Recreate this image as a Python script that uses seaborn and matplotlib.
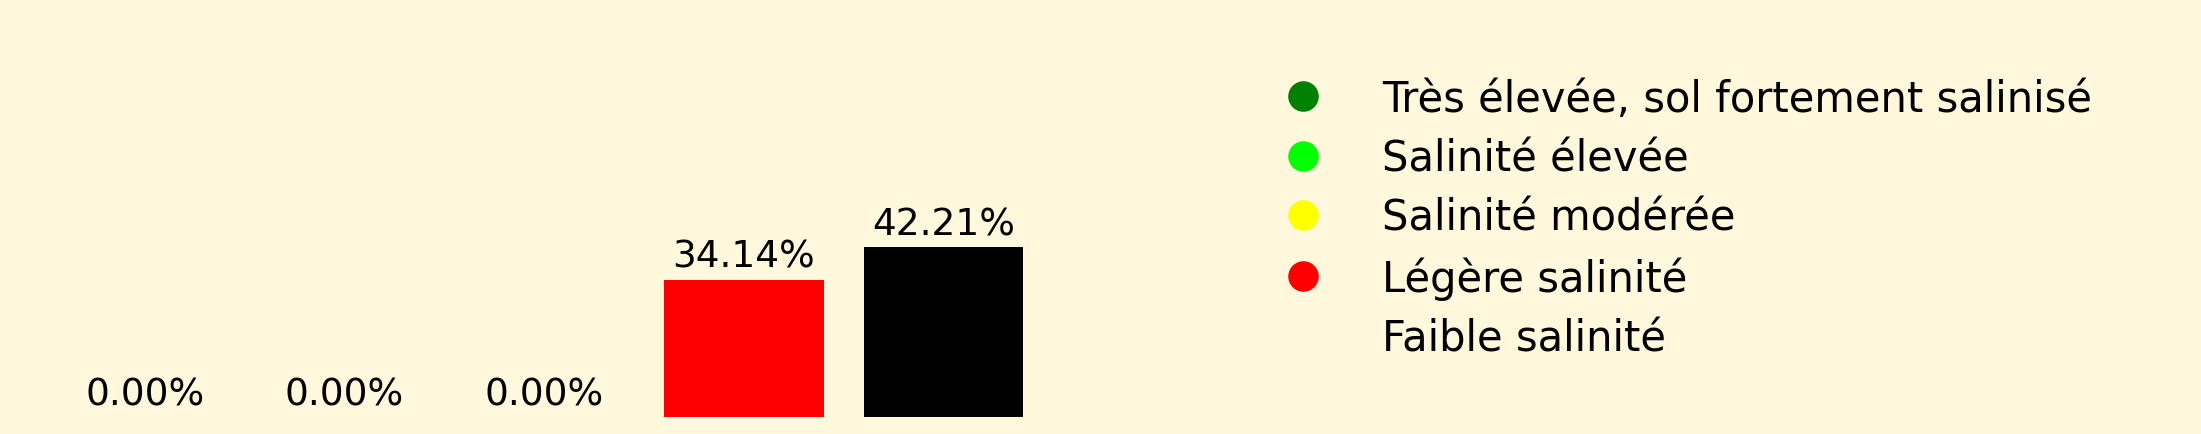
import matplotlib
matplotlib.use("Agg")
import matplotlib.pyplot as plt
from matplotlib.lines import Line2D
import seaborn as sns

categories = ["Très élevée, sol fortement salinisé", "Salinité élevée",
              "Salinité modérée", "Légère salinité", "Faible salinité"]
values = [0.00, 0.00, 0.00, 34.14, 42.21]
colors = ["#008000", "#00ff00", "#ffff00", "#ff0000", "#000000"]
legend_colors = ["#008000", "#00ff00", "#ffff00", "#ff0000", "none"]

bg = "#fff8dc"
fig = plt.figure(figsize=(22.01, 4.35), dpi=100, facecolor=bg)
ax = fig.add_axes([0.0204, 0.039, 0.4536, 0.926])
ax.set_facecolor(bg)

sns.barplot(x=list(range(len(values))), y=values, hue=list(range(len(values))),
            palette=colors, legend=False, width=0.8, saturation=1, ax=ax)
for i, v in enumerate(values):
    ax.text(i, v + 1.2, f"{v:.2f}%", ha="center", va="bottom", fontsize=27)

ax.set_xlim(-0.5, 4.5)
ax.set_ylim(0, 100)
ax.axis("off")

handles = [Line2D([], [], marker="o", linestyle="", markersize=22,
                  markerfacecolor=c, markeredgecolor="none") for c in legend_colors]
fig.legend(handles, categories, loc="upper left", bbox_to_anchor=(0.556, 0.905),
           frameon=False, fontsize=30, handletextpad=0.9, labelspacing=0.42)

fig.savefig("out.png", dpi=100, facecolor=bg)
